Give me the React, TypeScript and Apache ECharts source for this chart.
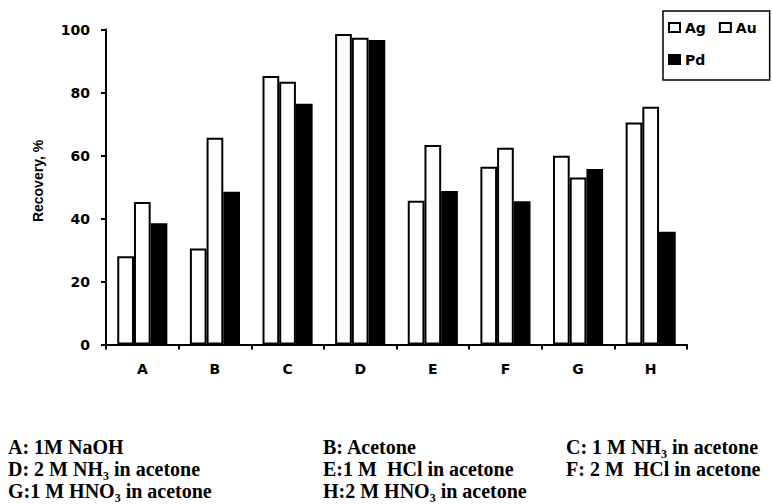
import React, { useEffect, useRef } from "react";
import * as echarts from "echarts";

const categories = ["A", "B", "C", "D", "E", "F", "G", "H"];
const agValues = [28, 30.5, 85.2, 98.6, 45.6, 56.4, 59.9, 70.5];
const auValues = [45.2, 65.6, 83.4, 97.4, 63.3, 62.5, 53, 75.5];
const pdValues = [38.5, 48.5, 76.4, 96.7, 48.7, 45.5, 55.7, 35.8];
const seriesNames = ["Ag", "Au", "Pd"];
const yAxisTitle = "Recovery, %";
const footnoteCol1 = ["A: 1M NaOH", "D: 2 M NH₃ in acetone", "G:1 M HNO₃ in acetone"];
const footnoteCol2 = ["B: Acetone", "E:1 M  HCl in acetone", "H:2 M HNO₃ in acetone"];
const footnoteCol3 = ["C: 1 M NH₃ in acetone", "F: 2 M  HCl in acetone"];

const SANS = '"DejaVu Sans", sans-serif';
const SERIF = '"Liberation Serif", "Times New Roman", serif';

export default function App() {
  const ref = useRef<HTMLDivElement>(null);

  useEffect(() => {
    if (!ref.current) return;
    const chart = echarts.init(ref.current, undefined, { renderer: "svg" });

    const colX = [8, 323, 566];
    const rowY = [447, 469, 491];
    const cols = [footnoteCol1, footnoteCol2, footnoteCol3];
    const graphics: any[] = [];
    cols.forEach((col, ci) => {
      col.forEach((t, ri) => {
        graphics.push({
          type: "text",
          x: colX[ci],
          y: rowY[ri],
          style: {
            text: t,
            font: `bold 20px ${SERIF}`,
            fill: "#000",
            verticalAlign: "middle",
            align: "left",
          },
        });
      });
    });

    const barBase = {
      type: "bar" as const,
      barGap: "0%",
      barCategoryGap: "31%",
    };

    chart.setOption({
      animation: false,
      backgroundColor: "#fff",
      grid: { left: 106, right: 85, top: 29.5, bottom: 159.5, containLabel: false },
      legend: {
        data: seriesNames,
        left: 663,
        top: 11,
        width: 90,
        orient: "horizontal",
        icon: "rect",
        itemWidth: 11,
        itemHeight: 9,
        itemGap: 13,
        padding: [7, 13, 11, 5],
        borderColor: "#000",
        borderWidth: 1.5,
        borderRadius: 0,
        textStyle: {
          fontFamily: SANS,
          fontWeight: "bold",
          fontSize: 14,
          color: "#000",
          lineHeight: 19,
        },
      },
      xAxis: {
        type: "category",
        data: categories,
        boundaryGap: true,
        axisLine: { show: true, lineStyle: { color: "#000", width: 2 } },
        axisTick: { show: true, length: 5, lineStyle: { color: "#000", width: 2 } },
        axisLabel: {
          margin: 17,
          fontFamily: SANS,
          fontWeight: "bold",
          fontSize: 14,
          color: "#000",
        },
        splitLine: { show: false },
      },
      yAxis: {
        type: "value",
        min: 0,
        max: 100,
        interval: 20,
        name: yAxisTitle,
        nameLocation: "middle",
        nameGap: 61,
        nameTextStyle: {
          fontFamily: '"Liberation Sans", Arial, sans-serif',
          fontWeight: "bold",
          fontSize: 14,
          color: "#000",
          padding: [0, 0, 0, 12],
        },
        axisLine: { show: true, lineStyle: { color: "#000", width: 2 } },
        axisTick: { show: true, length: 5, lineStyle: { color: "#000", width: 2 } },
        axisLabel: {
          margin: 16,
          fontFamily: SANS,
          fontWeight: "bold",
          fontSize: 14,
          color: "#000",
        },
        splitLine: { show: false },
      },
      series: [
        {
          ...barBase,
          name: "Ag",
          data: agValues,
          itemStyle: { color: "#fff", borderColor: "#000", borderWidth: 2 },
        },
        {
          ...barBase,
          name: "Au",
          data: auValues,
          itemStyle: { color: "#fff", borderColor: "#000", borderWidth: 2 },
        },
        {
          ...barBase,
          name: "Pd",
          data: pdValues,
          itemStyle: { color: "#000", borderColor: "#000", borderWidth: 2 },
        },
      ],
      graphic: graphics,
    });

    return () => chart.dispose();
  }, []);

  return (
    <div
      ref={ref}
      style={{ position: "fixed", left: 0, top: 0, width: 772, height: 504, background: "#fff" }}
    />
  );
}
